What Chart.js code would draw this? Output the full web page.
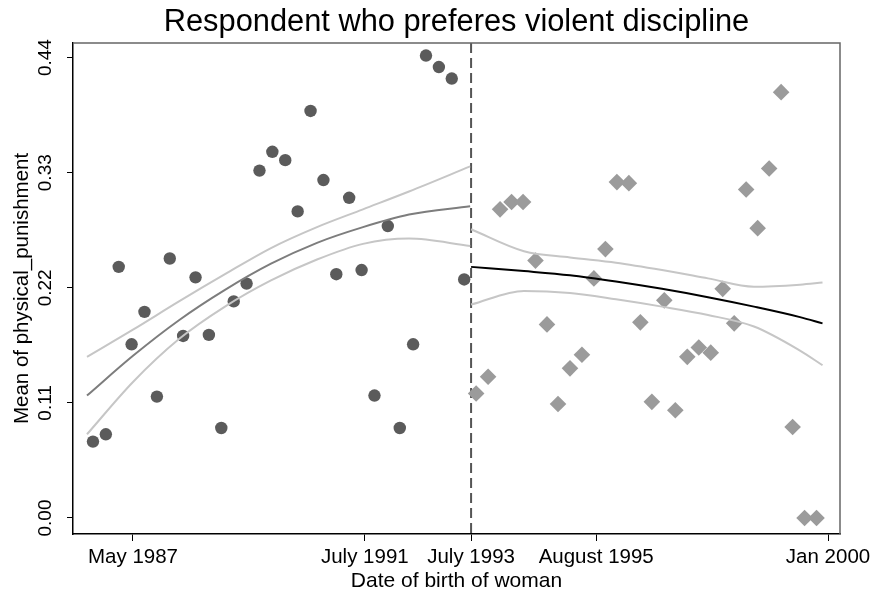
<!DOCTYPE html>
<html>
<head>
<meta charset="utf-8">
<script src="https://cdn.jsdelivr.net/npm/chart.js@4"></script>
<style>
  html, body { margin: 0; padding: 0; background: #fff; }
</style>
</head>
<body>
<canvas id="rdChart" width="870" height="595"></canvas>
<script>
// x = months since May 1987 (bin positions), y = mean of physical_punishment
var beforeX = [-8.7, -5.9, -3.1, -0.3, 2.5, 5.2, 8.0, 10.9, 13.6, 16.5, 19.2, 21.9, 24.7, 27.5, 30.3,
  33.1, 35.8, 38.6, 41.4, 44.2, 47.0, 49.7, 52.5, 55.4, 58.0, 60.9, 63.7, 66.5, 69.3, 72.0];
var beforeY = [0.073, 0.080, 0.240, 0.166, 0.197, 0.116, 0.248, 0.174, 0.230, 0.175, 0.086, 0.207, 0.224, 0.332, 0.350,
  0.342, 0.293, 0.389, 0.323, 0.233, 0.306, 0.237, 0.117, 0.279, 0.086, 0.166, 0.442, 0.431, 0.420, 0.228];
var afterX = [74.6, 77.2, 79.8, 82.3, 84.8, 87.5, 90.0, 92.4, 95.0, 97.6, 100.2, 102.7, 105.2, 107.8, 110.3,
  112.8, 115.5, 117.9, 120.5, 123.0, 125.6, 128.2, 130.7, 133.3, 135.8, 138.3, 140.9, 143.4, 146.0, 148.6];
var afterY = [0.119, 0.135, 0.295, 0.302, 0.302, 0.246, 0.185, 0.109, 0.143, 0.156, 0.229, 0.257, 0.321, 0.320, 0.187,
  0.111, 0.208, 0.103, 0.154, 0.163, 0.158, 0.219, 0.186, 0.314, 0.277, 0.334, 0.407, 0.087, 0.000, 0.000];

// fitted curves and their confidence bands
var fitBeforeX = [-10, 0, 10, 20, 30, 40, 50, 60, 73.3];
var fitBeforeY = [0.117, 0.155, 0.189, 0.218, 0.243, 0.263, 0.278, 0.290, 0.298];
var ciBeforeHi = [0.154, 0.180, 0.207, 0.233, 0.258, 0.278, 0.295, 0.312, 0.336];
var ciBeforeLo = [0.080, 0.130, 0.171, 0.202, 0.227, 0.247, 0.262, 0.267, 0.260];
var fitAfterX = [73.5, 85, 95, 105, 115, 125, 135, 145, 149.9];
var fitAfterY = [0.240, 0.236, 0.232, 0.226, 0.219, 0.211, 0.202, 0.192, 0.186];
var ciAfterHi = [0.276, 0.255, 0.249, 0.244, 0.237, 0.229, 0.221, 0.223, 0.225];
var ciAfterLo = [0.204, 0.217, 0.215, 0.209, 0.202, 0.194, 0.183, 0.160, 0.146];

var cutoff = 73.5;
var xTickValues = [0, 50.4, 73.5, 100.7, 151.1];
var xTickLabels = ['May 1987', 'July 1991', 'July 1993', 'August 1995', 'Jan 2000'];
var yTickValues = [0, 0.11, 0.22, 0.33, 0.44];

function pts(xs, ys) {
  return xs.map(function (x, i) { return { x: x, y: ys[i] }; });
}

function curve(xs, ys, color) {
  return {
    type: 'line',
    data: pts(xs, ys),
    borderColor: color,
    borderWidth: 2,
    pointRadius: 0,
    fill: false,
    cubicInterpolationMode: 'monotone'
  };
}

var FONT = 'Liberation Sans, Arial, Helvetica, sans-serif';

var cutoffLine = {
  id: 'cutoffLine',
  beforeDatasetsDraw: function (chart) {
    var ctx = chart.ctx, a = chart.chartArea;
    var x = chart.scales.x.getPixelForValue(cutoff);
    ctx.save();
    ctx.strokeStyle = '#555555';
    ctx.lineWidth = 2;
    ctx.setLineDash([10, 5]);
    ctx.beginPath();
    ctx.moveTo(x, a.top);
    ctx.lineTo(x, a.bottom);
    ctx.stroke();
    ctx.restore();
  },
  afterDraw: function (chart) {
    // plot region frame (top + right)
    var ctx = chart.ctx, a = chart.chartArea;
    ctx.save();
    ctx.strokeStyle = '#666666';
    ctx.lineWidth = 1.5;
    ctx.beginPath();
    ctx.moveTo(a.left, a.top);
    ctx.lineTo(a.right, a.top);
    ctx.lineTo(a.right, a.bottom);
    ctx.stroke();
    ctx.restore();
  }
};

var ctx = document.getElementById('rdChart').getContext('2d');
var rdChart = new Chart(ctx, {
  type: 'scatter',
  data: {
    datasets: [
      curve(fitBeforeX, fitBeforeY, '#7d7d7d'),
      curve(fitAfterX, fitAfterY, '#000000'),
      curve(fitBeforeX, ciBeforeHi, '#c6c6c6'),
      curve(fitBeforeX, ciBeforeLo, '#c6c6c6'),
      curve(fitAfterX, ciAfterHi, '#c6c6c6'),
      curve(fitAfterX, ciAfterLo, '#c6c6c6'),
      {
        label: 'before',
        data: pts(beforeX, beforeY),
        pointStyle: 'circle',
        pointRadius: 6.2,
        pointBackgroundColor: '#5b5b5b',
        pointBorderWidth: 0
      },
      {
        label: 'after',
        data: pts(afterX, afterY),
        pointStyle: 'rectRot',
        pointRadius: 8.3,
        pointBackgroundColor: '#9b9b9b',
        pointBorderWidth: 0
      }
    ]
  },
  options: {
    responsive: false,
    animation: false,
    devicePixelRatio: 1,
    layout: { padding: { top: 0, right: 30, bottom: 0, left: 0 } },
    plugins: {
      legend: { display: false },
      tooltip: { enabled: false },
      title: {
        display: true,
        fullSize: false,
        text: 'Respondent who preferes violent discipline',
        color: '#000',
        font: { family: FONT, size: 30.8, weight: 'normal' },
        padding: { top: 4.5, bottom: 1.5 }
      }
    },
    scales: {
      x: {
        type: 'linear',
        min: -13.04,
        max: 153.7,
        afterBuildTicks: function (s) {
          s.ticks = xTickValues.map(function (v) { return { value: v }; });
        },
        afterFit: function (s) {
          s.height = 61;
          s.paddingLeft = 0;
          s.paddingRight = 0;
        },
        ticks: {
          autoSkip: false,
          maxRotation: 0,
          padding: 4.5,
          color: '#000',
          font: { family: FONT, size: 20.5 },
          callback: function (v, i) { return xTickLabels[i]; }
        },
        grid: { drawOnChartArea: false, tickLength: 7, color: '#000', lineWidth: 1 },
        border: { color: '#000', width: 1.5 },
        title: {
          display: true,
          text: 'Date of birth of woman',
          color: '#000',
          font: { family: FONT, size: 21 },
          padding: { top: 0, bottom: 1 }
        }
      },
      y: {
        type: 'linear',
        min: -0.0153,
        max: 0.454,
        afterBuildTicks: function (s) {
          s.ticks = yTickValues.map(function (v) { return { value: v }; });
        },
        afterFit: function (s) {
          s.width = 73;
          s.paddingTop = 0;
          s.paddingBottom = 0;
        },
        ticks: {
          minRotation: 90,
          maxRotation: 90,
          crossAlign: 'center',
          padding: 3,
          color: '#000',
          font: { family: FONT, size: 19 },
          callback: function (v) { return v.toFixed(2); }
        },
        grid: { drawOnChartArea: false, tickLength: 6, color: '#000', lineWidth: 1 },
        border: { color: '#000', width: 1.5 },
        title: {
          display: true,
          text: 'Mean of physical_punishment',
          color: '#000',
          font: { family: FONT, size: 20.5 },
          padding: { top: 10, bottom: 0 }
        }
      }
    }
  },
  plugins: [cutoffLine]
});
</script>
</body>
</html>
